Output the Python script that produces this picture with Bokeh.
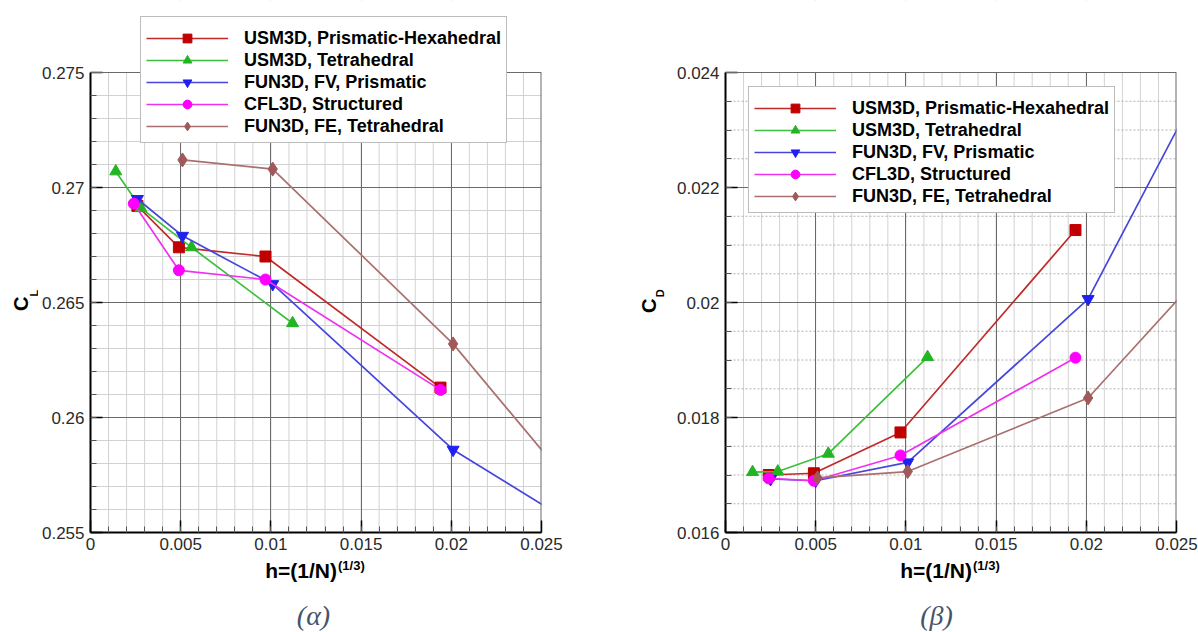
import numpy as np
from bokeh.plotting import figure
from bokeh.models import (Range1d, FixedTicker, Legend, LegendItem, Label,
                          CustomJSTickFormatter, Span)
from bokeh.layouts import row, column
from bokeh.embed import file_html
from bokeh.resources import INLINE

# ---------------------------------------------------------------------------
# Grid-convergence data: h = (1/N)^(1/3)
# ---------------------------------------------------------------------------
series_names = [
    "USM3D, Prismatic-Hexahedral",
    "USM3D, Tetrahedral",
    "FUN3D, FV, Prismatic",
    "CFL3D, Structured",
    "FUN3D, FE, Tetrahedral",
]

# Lift coefficient C_L
cl_h_usm3d_ph = [0.0026, 0.0049, 0.0097, 0.0194]
cl_usm3d_ph = [0.2692, 0.2674, 0.2670, 0.2613]
cl_h_usm3d_tet = [0.0014, 0.0028, 0.0056, 0.0112]
cl_usm3d_tet = [0.2707, 0.2691, 0.2674, 0.2641]
cl_h_fun3d_fv = [0.0026, 0.0051, 0.0101, 0.0201, 0.0317]
cl_fun3d_fv = [0.2695, 0.2679, 0.2658, 0.2586, 0.2530]
cl_h_cfl3d = [0.0024, 0.0049, 0.0097, 0.0194]
cl_cfl3d = [0.2693, 0.2664, 0.2660, 0.2612]
cl_h_fun3d_fe = [0.0051, 0.0101, 0.0201, 0.0317]
cl_fun3d_fe = [0.2712, 0.2708, 0.2632, 0.2523]

# Drag coefficient C_D
cd_h_usm3d_ph = [0.0024, 0.0049, 0.0097, 0.0194]
cd_usm3d_ph = [0.01700, 0.01703, 0.01774, 0.02126]
cd_h_usm3d_tet = [0.0015, 0.0029, 0.0057, 0.0112]
cd_usm3d_tet = [0.01705, 0.01706, 0.01737, 0.01905]
cd_h_fun3d_fv = [0.0025, 0.0050, 0.0101, 0.0201, 0.0317]
cd_fun3d_fv = [0.01693, 0.01690, 0.01722, 0.02006, 0.02700]
cd_h_cfl3d = [0.0024, 0.0049, 0.0097, 0.0194]
cd_cfl3d = [0.01694, 0.01690, 0.01734, 0.01904]
cd_h_fun3d_fe = [0.0051, 0.0101, 0.0201, 0.0317]
cd_fun3d_fe = [0.01695, 0.01706, 0.01834, 0.02233]

# Axis ticks and labels
x_ticks = [0, 0.005, 0.01, 0.015, 0.02, 0.025]
x_tick_labels = ["0", "0.005", "0.01", "0.015", "0.02", "0.025"]
cl_ticks = [0.255, 0.26, 0.265, 0.27, 0.275]
cl_tick_labels = ["0.255", "0.26", "0.265", "0.27", "0.275"]
cd_ticks = [0.016, 0.018, 0.02, 0.022, 0.024]
cd_tick_labels = ["0.016", "0.018", "0.02", "0.022", "0.024"]

# ---------------------------------------------------------------------------
# Styling and layout constants
# ---------------------------------------------------------------------------
styles = [
    dict(line="#c02a2a", fill="#c00000", marker="square", size=11),
    dict(line="#3cc03c", fill="#22b422", marker="triangle", size=12),
    dict(line="#4646dc", fill="#2020f0", marker="inverted_triangle", size=12),
    dict(line="#f030f0", fill="#ff00ff", marker="circle", size=11),
    dict(line="#aa7070", fill="#a05858", marker="diamond", size=14),
]

FONT = "Liberation Sans"
FRAME_W, FRAME_H = 453, 460     # plotting area of each panel
HEAD = 72                       # room above the plotting area (legend may sit there)
AXIS_LEFT, AXIS_BOTTOM = 50, 25
MAIN_H = HEAD + FRAME_H + AXIS_BOTTOM
TOTAL_H = 632
GRID_COLOR = "#6a6a6a"
MINOR_COLOR = "#d2d2d2"


def fmt(ticks, labels):
    return CustomJSTickFormatter(
        args=dict(vals=ticks, labs=labels),
        code="const i = vals.findIndex(v => Math.abs(v - tick) < 1e-9);"
             "return i >= 0 ? labs[i] : '';")


def inner_minor(start, stop, step, nd):
    """Minor tick positions strictly inside (start, stop)."""
    n = int(round((stop - start) / step))
    return [round(start + k * step, nd) for k in range(1, n)]


def blank(w, h):
    f = figure(width=w, height=h, x_range=Range1d(0, w), y_range=Range1d(0, h),
               output_backend="svg", toolbar_location=None, min_border=0,
               x_axis_location=None, y_axis_location=None)
    f.outline_line_color = None
    f.grid.grid_line_color = None
    f.background_fill_color = "white"
    f.border_fill_color = "white"
    return f


def text(f, x, y, s, size, style="bold", angle=0.0, font=FONT, color="black",
         align="center"):
    f.add_layout(Label(x=x, y=y, text=s, text_font=font, text_font_size=size,
                       text_font_style=style, text_color=color, angle=angle,
                       text_align=align, text_baseline="middle"))


def make_main(xs, ys, y0, y1, y_ticks, y_minor, y_labels, right, legend_xy,
              dotted_minor_y):
    y_top = y1 + HEAD * (y1 - y0) / FRAME_H
    p = figure(width=AXIS_LEFT + FRAME_W + right, height=MAIN_H,
               x_range=Range1d(0, 0.025), y_range=Range1d(y0, y_top),
               output_backend="svg", toolbar_location=None,
               min_border_left=AXIS_LEFT, min_border_right=right,
               min_border_top=0, min_border_bottom=AXIS_BOTTOM)
    p.background_fill_color = "white"
    p.border_fill_color = "white"
    p.outline_line_color = None

    x_minor = inner_minor(0, 0.025, 0.001, 4)
    p.xaxis.ticker = FixedTicker(ticks=x_ticks, minor_ticks=x_minor)
    p.yaxis.ticker = FixedTicker(ticks=y_ticks, minor_ticks=y_minor)
    p.xaxis.formatter = fmt(x_ticks, x_tick_labels)
    p.yaxis.formatter = fmt(y_ticks, y_labels)
    p.yaxis.bounds = (y0, y1)

    # major grid lines strictly inside the data area; edges drawn separately
    p.xgrid.ticker = FixedTicker(ticks=x_ticks[1:-1])
    p.ygrid.ticker = FixedTicker(ticks=y_ticks[1:-1])
    for g in (p.xgrid, p.ygrid):
        g.grid_line_color = GRID_COLOR
        g.grid_line_width = 1
        g.minor_grid_line_color = None

    # minor grid lines, limited to the data area
    n_x, n_y = len(x_minor), len(y_minor)
    p.segment(x0=x_minor, y0=[y0] * n_x, x1=x_minor, y1=[y1] * n_x,
              line_color=MINOR_COLOR, line_width=1, level="underlay")
    p.segment(x0=[0] * n_y, y0=y_minor, x1=[0.025] * n_y, y1=y_minor,
              line_color="#b0b0b0" if dotted_minor_y else MINOR_COLOR,
              line_dash="2 2" if dotted_minor_y else "solid",
              line_width=1, level="underlay")

    for ax in (p.xaxis, p.yaxis):
        ax.axis_line_color = "black"
        ax.axis_line_width = 2
        ax.major_tick_in = 12
        ax.major_tick_out = 0
        ax.minor_tick_in = 6
        ax.minor_tick_out = 0
        ax.major_tick_line_color = "black"
        ax.major_tick_line_width = 1.5
        ax.minor_tick_line_color = "#555555"
        ax.major_label_text_font = FONT
        ax.major_label_text_font_size = "17px"
        ax.major_label_text_color = "#2a2a2a"
    p.xaxis.major_label_standoff = 5
    p.yaxis.major_label_standoff = 6

    items = []
    for name, x, y, st in zip(series_names, xs, ys, styles):
        ln = p.line(x, y, line_color=st["line"], line_width=1.7)
        sc = p.scatter(x, y, marker=st["marker"], size=st["size"],
                       fill_color=st["fill"], line_color=st["fill"])
        items.append(LegendItem(label=name, renderers=[ln, sc]))

    # blank out the head room above the data area
    p.quad(left=[-0.001], right=[0.026], bottom=[y1], top=[y_top * 1.01],
           fill_color="white", line_color=None)
    # right-hand and top borders of the data area
    p.segment(x0=[0.025], y0=[y0], x1=[0.025], y1=[y1],
              line_color=GRID_COLOR, line_width=2)
    p.add_layout(Span(location=y1, dimension="width",
                      line_color=GRID_COLOR, line_width=1))

    legend = Legend(items=items, location=legend_xy,
                    label_text_font=FONT, label_text_font_size="18px",
                    label_text_font_style="bold", label_text_color="black",
                    glyph_width=82, glyph_height=22, label_height=22,
                    label_standoff=16, spacing=0, padding=5,
                    title=" ", title_text_font_size="4px", title_standoff=0,
                    border_line_color="#7a7a7a", border_line_width=1.2,
                    background_fill_color="white", background_fill_alpha=1.0)
    p.add_layout(legend, "center")
    return p


def make_panel(xs, ys, y0, y1, y_ticks, y_minor, y_labels, lab_w, right,
               ylab_main, ylab_sub, c_xy, s_xy, caption, cap_x, legend_xy,
               dotted_minor_y):
    main = make_main(xs, ys, y0, y1, y_ticks, y_minor, y_labels, right,
                     legend_xy, dotted_minor_y)

    # vertical axis title with subscript
    ylab = blank(lab_w, MAIN_H)
    text(ylab, c_xy[0], MAIN_H - c_xy[1], ylab_main, "20px", angle=np.pi / 2)
    text(ylab, s_xy[0], MAIN_H - s_xy[1], ylab_sub, "11px", angle=np.pi / 2)

    # horizontal axis title with superscript, then the panel caption
    width = lab_w + AXIS_LEFT + FRAME_W + right
    bot_h = TOTAL_H - MAIN_H
    bot = blank(width, bot_h)
    mid = lab_w + AXIS_LEFT + FRAME_W / 2
    split = mid + 22
    text(bot, split, TOTAL_H - 570, "h=(1/N)", "21px", align="right")
    text(bot, split + 1, TOTAL_H - 565, "(1/3)", "13px", align="left")
    text(bot, cap_x, TOTAL_H - 615, caption, "28px", style="italic",
         font="Liberation Serif", color="#44546a")

    return column(row(ylab, main), bot)


left_panel = make_panel(
    [cl_h_usm3d_ph, cl_h_usm3d_tet, cl_h_fun3d_fv, cl_h_cfl3d, cl_h_fun3d_fe],
    [cl_usm3d_ph, cl_usm3d_tet, cl_fun3d_fv, cl_cfl3d, cl_fun3d_fe],
    0.255, 0.275, cl_ticks, inner_minor(0.255, 0.275, 0.001, 4), cl_tick_labels,
    lab_w=38, right=59, ylab_main="C", ylab_sub="L",
    c_xy=(20, 317.5), s_xy=(33, 306.5), caption="(α)", cap_x=313,
    legend_xy=(50, 389), dotted_minor_y=False)

right_panel = make_panel(
    [cd_h_usm3d_ph, cd_h_usm3d_tet, cd_h_fun3d_fv, cd_h_cfl3d, cd_h_fun3d_fe],
    [cd_usm3d_ph, cd_usm3d_tet, cd_fun3d_fv, cd_cfl3d, cd_fun3d_fe],
    0.016, 0.024, cd_ticks, inner_minor(0.016, 0.024, 0.0005, 5), cd_tick_labels,
    lab_w=73, right=22, ylab_main="C", ylab_sub="D",
    c_xy=(48.5, 319.5), s_xy=(59, 306.5), caption="(β)", cap_x=336,
    legend_xy=(23, 319), dotted_minor_y=True)

layout = row(left_panel, right_panel)
open("out.html", "w").write(file_html(layout, INLINE))
